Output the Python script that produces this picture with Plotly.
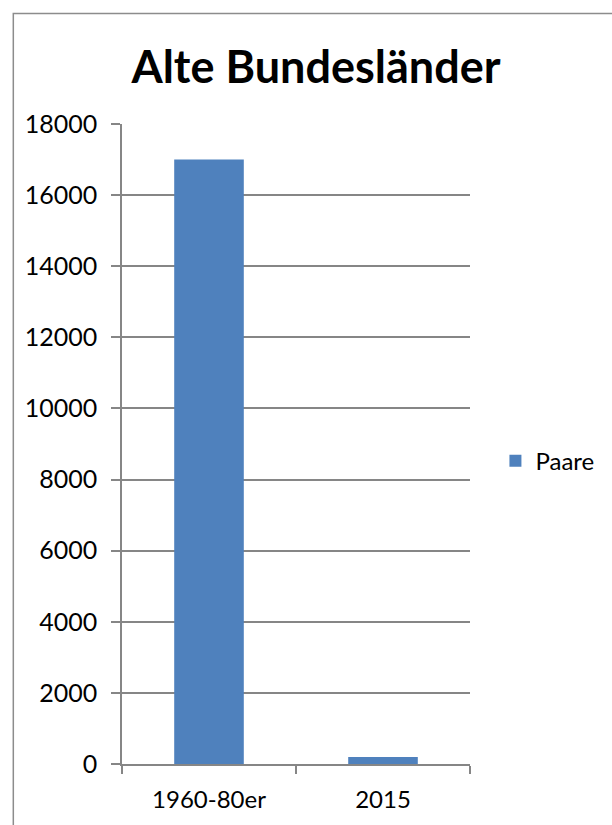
import plotly.graph_objects as go

# Chart data
categories = ["1960-80er", "2015"]
paare = [17000, 200]
y_ticks = [0, 2000, 4000, 6000, 8000, 10000, 12000, 14000, 16000, 18000]

W, H = 612, 825
L, R, T, B = 121.5, 141.5, 123.5, 59
plot_w = W - L - R
plot_h = H - T - B

font_family = "Lato, 'Open Sans', sans-serif"
axis_grey = "#868686"

fig = go.Figure()
fig.add_trace(go.Bar(
    x=categories,
    y=paare,
    name="Paare",
    marker=dict(color="#4F81BD", line=dict(width=0)),
))

def px_x(px):
    return (px - L) / plot_w

def px_y(py):
    return (H - B - py) / plot_h

fig.update_layout(
    width=W,
    height=H,
    margin=dict(l=L, r=R, t=T, b=B),
    paper_bgcolor="white",
    plot_bgcolor="white",
    bargap=0.6,
    font=dict(family=font_family, color="black", size=24),
    title=dict(
        text="<b>Alte Bundesländer</b>",
        font=dict(size=45, family=font_family, color="black"),
        x=316 / W, xanchor="center",
        y=1 - 67 / H, yanchor="middle",
        xref="container", yref="container",
    ),
    showlegend=True,
    legend=dict(
        x=px_x(496), xanchor="left",
        y=px_y(462), yanchor="middle",
        font=dict(size=24, family=font_family),
        bgcolor="rgba(0,0,0,0)",
    ),
    xaxis=dict(
        type="category",
        showline=True, linecolor=axis_grey, linewidth=1.5,
        ticks="outside", tickson="boundaries", ticklen=8,
        tickcolor=axis_grey, tickwidth=1.5,
        showgrid=False,
        tickfont=dict(size=24, family=font_family),
        ticklabelstandoff=13,
    ),
    yaxis=dict(
        range=[0, 18000],
        tickvals=y_ticks,
        ticktext=[str(v) for v in y_ticks],
        showline=True, linecolor=axis_grey, linewidth=1.5,
        ticks="outside", ticklen=9, tickcolor=axis_grey, tickwidth=1.5,
        showgrid=True, gridcolor=axis_grey, gridwidth=1.5,
        zeroline=False,
        tickfont=dict(size=25, family=font_family),
        ticklabelstandoff=9,
    ),
    shapes=[
        dict(
            type="rect", xref="paper", yref="paper",
            x0=px_x(12.5), x1=px_x(W + 20),
            y0=px_y(H + 20), y1=px_y(12.5),
            line=dict(color="#8c8c8c", width=1.5),
            fillcolor="rgba(0,0,0,0)",
            layer="below",
        )
    ],
)

fig.write_html("out.html")
